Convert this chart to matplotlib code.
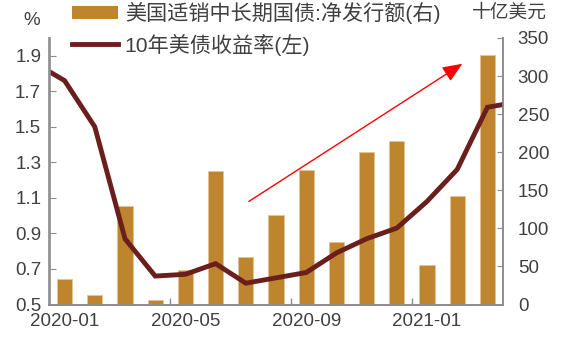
import matplotlib
matplotlib.use('Agg')
import matplotlib.pyplot as plt
from matplotlib.patches import Patch
from matplotlib.lines import Line2D

plt.rcParams['font.family'] = ['Liberation Sans', 'Noto Sans CJK SC', 'DejaVu Sans']

# 月份 2020-01 ~ 2021-03
months = ['2020-01', '2020-02', '2020-03', '2020-04', '2020-05', '2020-06', '2020-07',
          '2020-08', '2020-09', '2020-10', '2020-11', '2020-12', '2021-01', '2021-02', '2021-03']
# 净发行额, 十亿美元 (右轴)
net_issue = [34, 13, 130, 6, 45, 175, 63, 118, 176, 82, 200, 215, 52, 142, 328]
# 10年美债收益率 %, 含 2019-12 和 2021-04 (两端被坐标轴截断)
yield_months = ['2019-12'] + months + ['2021-04']
yield10 = [1.86, 1.76, 1.50, 0.87, 0.66, 0.67, 0.73, 0.62, 0.65, 0.68, 0.79, 0.87,
           0.93, 1.08, 1.26, 1.61, 1.64]
xlabels = ['2020-01', '2020-05', '2020-09', '2021-01']

bar_col = '#BF842E'
line_col = '#6A1F1D'
txt_col = '#404040'
grey = '#8C8C8C'

fig = plt.figure(figsize=(5.61, 3.41), dpi=100)
ax = fig.add_axes([49.5/561, 36.5/341, 453/561, 266.5/341])
ax2 = ax.twinx()

xb = list(range(len(months)))
ax2.bar(xb, net_issue, width=0.5, color=bar_col, edgecolor='#E2C596', linewidth=0.6)
ax2.set_ylim(0, 350)
ax2.set_yticks(range(0, 351, 50))

xl = list(range(-1, len(months) + 1))
ax.plot(xl, yield10, color=line_col, lw=3.5, solid_joinstyle='miter')
ax.set_zorder(ax2.get_zorder() + 1)
ax.patch.set_visible(False)
ax.set_xlim(-0.5, len(months) - 0.5)
ax.set_ylim(0.5, 2.0)
ax.set_yticks([0.5, 0.7, 0.9, 1.1, 1.3, 1.5, 1.7, 1.9])

ax.set_xticks([months.index(m) for m in xlabels])
ax.set_xticklabels(xlabels)
ax.set_xticks([3.5, 7.5, 11.5], minor=True)
ax.tick_params(axis='x', which='major', length=0, pad=6, labelsize=13.5, labelcolor=txt_col)
ax.tick_params(axis='x', which='minor', direction='in', length=5, color=grey, width=1)
ax.tick_params(axis='y', direction='in', length=4, color=grey, labelsize=13.5, labelcolor=txt_col, pad=6)
ax2.tick_params(axis='y', direction='in', length=4, color=grey, labelsize=13.5, labelcolor=txt_col, pad=11)

for a in (ax, ax2):
    a.spines['top'].set_visible(False)
    for s in ('left', 'right', 'bottom'):
        a.spines[s].set_color(grey)
        a.spines[s].set_linewidth(1.2)

ax.text(-0.039, 1.064, '%', transform=ax.transAxes, ha='center', va='center',
        fontsize=13.5, color=txt_col)
ax.text(1.015, 1.094, '十亿美元', transform=ax.transAxes, ha='center', va='center',
        fontsize=13.5, color=txt_col)

# 红色箭头
ax.annotate('', xy=(13.17, 1.855), xytext=(6.1, 1.08),
            arrowprops=dict(arrowstyle='-|>,head_length=0.6,head_width=0.25', color='red',
                            lw=1, mutation_scale=20, shrinkA=0, shrinkB=0))

handles = [Patch(facecolor=bar_col, edgecolor='none'),
           Line2D([0], [0], color=line_col, lw=3.5)]
labels = ['美国适销中长期国债:净发行额(右)', '10年美债收益率(左)']
fig.legend(handles, labels, loc='upper left', bbox_to_anchor=(72/561, 1 - 2/341),
           frameon=False, fontsize=15.2, handlelength=2.2, handleheight=0.6,
           handletextpad=0.3, labelspacing=0.45, borderpad=0, borderaxespad=0,
           labelcolor=txt_col)

fig.savefig('out.png', dpi=100)
